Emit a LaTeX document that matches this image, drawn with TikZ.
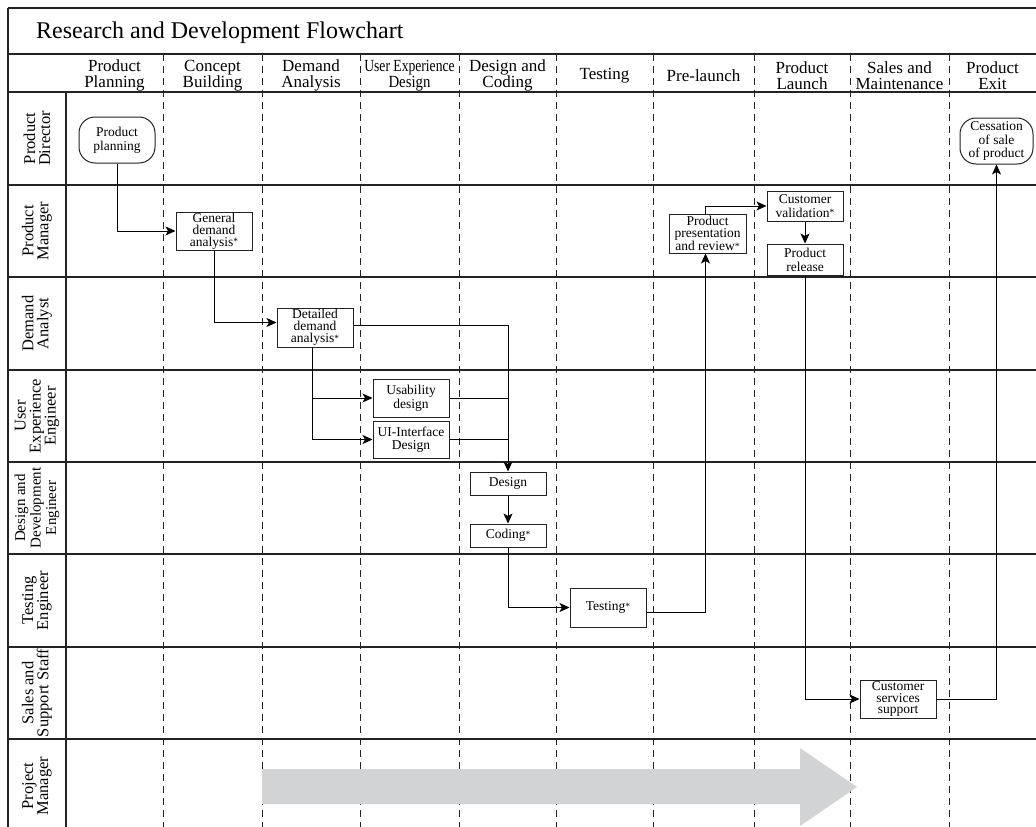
\documentclass[tikz,border=0pt]{standalone}
\usepackage{fontspec}
\usepackage{graphicx}
\setmainfont{Liberation Serif}
\usetikzlibrary{arrows.meta,calc}

\definecolor{rule}{RGB}{35,35,35}
\definecolor{bandgray}{RGB}{209,211,212}
% small raised asterisk used in task names
\newcommand\keymark{\raisebox{1.5pt}{\fontsize{9.5}{9.5}\selectfont *}}

\begin{document}
\begin{tikzpicture}[x=1pt,y=-1pt,
  lane/.style={draw=rule,line width=1.3pt},
  phase/.style={draw=rule,line width=1pt,dash pattern=on 7pt off 5pt},
  task/.style={draw=rule,line width=1pt,fill=white,minimum width=76pt,inner sep=0pt,
    align=center,font=\fontsize{13.5}{12}\selectfont},
  endpoint/.style={task,rounded corners=16pt,minimum height=46pt},
  flow/.style={draw=black,line width=1pt,-{Stealth[length=10pt,width=9pt,inset=2.5pt]}},
  link/.style={draw=black,line width=1pt},
  hdr/.style={align=center,font=\fontsize{17}{16.5}\selectfont,inner sep=0pt},
  role/.style={rotate=90,align=center,font=\fontsize{16.5}{15}\selectfont,inner sep=0pt},
]
\useasboundingbox (0,0) rectangle (1036,827);

% phase separators
\foreach \x in {163,262,360,459,556,653,754,850,949}
  \draw[phase] (\x,54) -- (\x,827);

% outer frame and swimlanes
\draw[lane] (8,8) -- (1036,8);
\draw[lane] (8,54) -- (1036,54);
\draw[lane] (8,8) -- (8,827);
\draw[lane] (66,92) -- (66,827);
\foreach \y in {92,185,277,370,462,554,647,739}
  \draw[lane] (8,\y) -- (1036,\y);

% title
\node[anchor=base west,inner sep=0pt,font=\fontsize{24}{24}\selectfont] (title) at (36,38)
  {Research and Development Flowchart};

% phase headers
\node[hdr] (h1)  at (114.5,75.5) {Product\\Planning};
\node[hdr] (h2)  at (212.5,75.5) {Concept\\Building};
\node[hdr] (h3)  at (311,75.5)   {Demand\\Analysis};
\node[hdr] (h4)  at (409.5,75.5) {\scalebox{0.8}[1]{User Experience}\\\scalebox{0.87}[1]{Design}};
\node[hdr] (h5)  at (507.5,75.5) {Design and\\Coding};
\node[hdr] (h6)  at (604.5,75.5) {Testing};
\node[hdr] (h7)  at (703.5,75.5) {Pre-launch};
\node[hdr] (h8)  at (802,75.5)   {Product\\Launch};
\node[hdr] (h9)  at (899.5,75.5) {Sales and\\Maintenance};
\node[hdr] (h10) at (992.5,75.5) {Product\\Exit};

% roles
\node[role] (r1) at (37,138.5) {Product\\Director};
\node[role] (r2) at (37,231)   {Product\\Manager};
\node[role] (r3) at (37,323.5) {Demand\\Analyst};
\node[role] (r4) at (37,416)   {User\\Experience\\Engineer};
\node[role,font=\fontsize{15}{15.5}\selectfont] (r5) at (37,508) {Design and\\Development\\Engineer};
\node[role] (r6) at (37,600.5) {Testing\\Engineer};
\node[role] (r7) at (37,693)   {Sales and\\Support Staff};
\node[role] (r8) at (37,786)   {Project\\Manager};

% project timeline band
\fill[bandgray] (262,769) -- (800,769) -- (800,748) -- (857,787) -- (800,826)
  -- (800,804) -- (262,804) -- cycle;

% tasks
\node[endpoint,font=\fontsize{13.5}{14}\selectfont] (plan) at (117,140) {Product\\planning};
\node[task,minimum height=38pt,font=\fontsize{13.5}{11.8}\selectfont] (gda) at (214,231) {General\\demand\\analysis\keymark};
\node[task,minimum height=39pt,font=\fontsize{13.5}{11.8}\selectfont] (dda) at (315,327.5) {Detailed\\demand\\analysis\keymark};
\node[task,minimum height=38pt,font=\fontsize{13.5}{14}\selectfont] (usa) at (411,398) {Usability\\design};
\node[task,minimum height=37pt,font=\fontsize{13.5}{13}\selectfont] (uid) at (411,439.5) {UI-Interface\\Design};
\node[task,minimum height=23pt] (des) at (508,483.5) {Design};
\node[task,minimum height=23pt] (cod) at (508,535.5) {Coding\keymark};
\node[task,minimum height=39pt] (tst) at (608,607.5) {Testing\keymark};
\node[task,minimum width=77pt,minimum height=39pt,font=\fontsize{13.5}{11.8}\selectfont] (ppr) at (707.5,233.5) {Product\\presentation\\and review\keymark};
\node[task,minimum height=30pt,font=\fontsize{13.5}{13.3}\selectfont] (cval) at (805,206) {Customer\\validation\keymark};
\node[task,minimum height=31pt,font=\fontsize{13.5}{14}\selectfont] (rel) at (805,259.5) {Product\\release};
\node[endpoint,minimum width=73pt,font=\fontsize{13.5}{13.3}\selectfont] (exit) at (996.5,141) {Cessation\\of sale\\of product};
\node[task,minimum height=38pt,font=\fontsize{13.5}{11.8}\selectfont] (css) at (898,699) {Customer\\services\\support};

% flow
\draw[flow] (plan.south) |- (gda.west);
\draw[flow] (gda.south) |- ([yshift=5pt]dda.west);
\draw[flow] ([yshift=2pt]dda.east) -| (des.north);
\draw[flow] ([xshift=-3pt]dda.south) |- (usa.west);
\draw[flow] ([xshift=-3pt]dda.south) |- (uid.west);
\draw[link] (usa.east) -- (usa.east -| des.north);
\draw[link] (uid.east) -- (uid.east -| des.north);
\draw[flow] (des) -- (cod);
\draw[flow] (cod.south) |- (tst.west);
\draw[flow] ([yshift=-5pt]tst.east) -| ([xshift=-2pt]ppr.south);
\draw[flow] ([xshift=-2pt]ppr.north) |- (cval.west);
\draw[flow] (cval) -- (rel);
\draw[flow] (rel.south) |- (css.west);
\draw[flow] (css.east) -| (exit.south);
\end{tikzpicture}
\end{document}
